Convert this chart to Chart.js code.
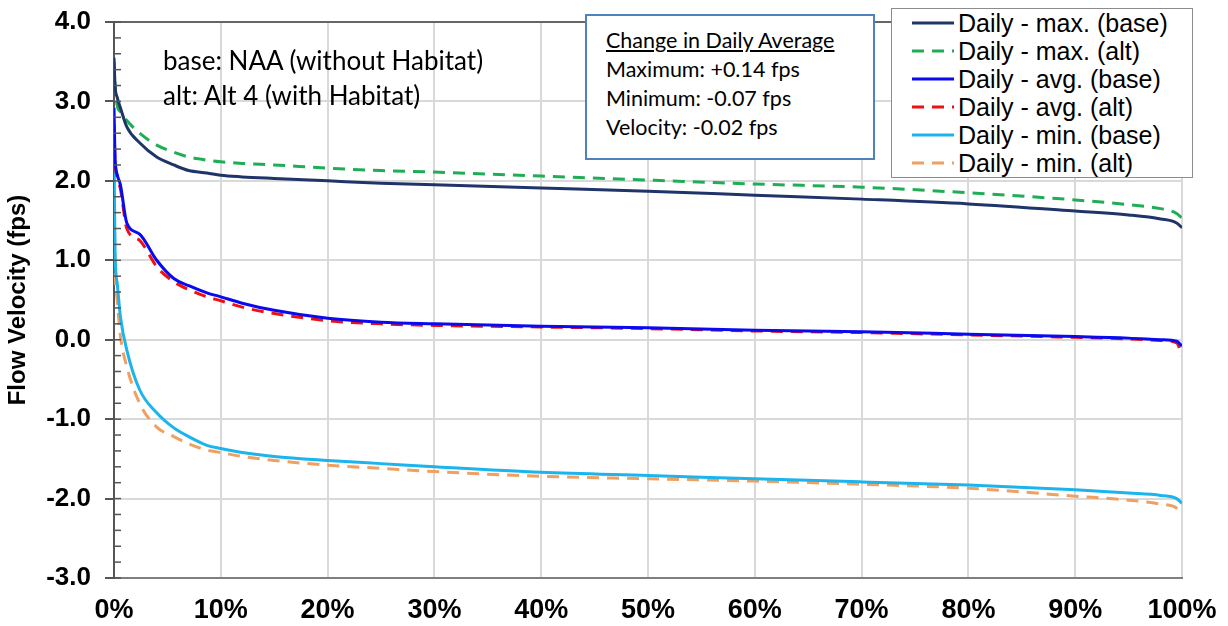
<!DOCTYPE html>
<html>
<head>
<meta charset="utf-8">
<script src="https://cdn.jsdelivr.net/npm/chart.js@4"></script>
<style>
  body { margin: 0; background: #fff; }
  #wrap { position: relative; width: 1228px; height: 626px; }
  .note { position: absolute; font-family: Lato, "Open Sans", sans-serif; color: #000; }
  #legend { position: absolute; left: 891px; top: 8px; width: 300px; height: 168px; border: 1.5px solid #8c8c8c; background: #fff; }
  .row { position: absolute; left: 20px; height: 28px; display: flex; align-items: center; font-family: "Liberation Sans", Arial, sans-serif; font-size: 25px; white-space: nowrap; }
  .row svg { margin-right: 4px; }
</style>
</head>
<body>
<div id="wrap">
  <canvas id="flow-velocity-chart" width="1228" height="626"></canvas>
  <div class="note" style="left:163px; top:43px; font-size:26px; line-height:35px;">base: NAA (without Habitat)<br>alt: Alt 4 (with Habitat)</div>
  <div class="note" style="left:585px; top:14px; width:286px; height:142px; border:2px solid #4f81bd; background:#fff; font-size:21.5px; line-height:29px;">
    <div style="padding:10px 0 0 19px;">
      <span style="text-decoration:underline;">Change in Daily Average</span><br>
      Maximum: +0.14 fps<br>
      Minimum: -0.07 fps<br>
      Velocity: -0.02 fps
    </div>
  </div>
  <div id="legend"></div>
</div>
<script>
// exceedance percent (shared x values)
const exceedPct = [0, 0.1, 0.3, 0.6, 1.2, 2.4, 4, 5.6, 7, 8.7, 10, 12, 15, 20, 25, 30, 40, 50, 60, 70, 80, 90, 95, 98, 99.5, 100];

const maxBase = [3.55, 3.2, 3.05, 2.92, 2.68, 2.48, 2.3, 2.2, 2.13, 2.1, 2.07, 2.05, 2.03, 2.0, 1.97, 1.95, 1.91, 1.87, 1.82, 1.77, 1.71, 1.62, 1.57, 1.52, 1.47, 1.41];
const maxAlt = [3.5, 3.2, 2.95, 2.87, 2.76, 2.6, 2.45, 2.36, 2.3, 2.26, 2.24, 2.22, 2.2, 2.16, 2.13, 2.11, 2.06, 2.01, 1.96, 1.92, 1.85, 1.76, 1.7, 1.65, 1.59, 1.53];
const avgBase = [2.92, 2.3, 2.08, 1.95, 1.47, 1.33, 1.0, 0.77, 0.68, 0.59, 0.54, 0.46, 0.37, 0.27, 0.22, 0.2, 0.17, 0.15, 0.12, 0.1, 0.07, 0.04, 0.02, 0.0, -0.02, -0.08];
const avgAlt = [2.7, 2.25, 2.05, 1.9, 1.4, 1.25, 0.92, 0.73, 0.63, 0.54, 0.49, 0.41, 0.33, 0.24, 0.2, 0.18, 0.16, 0.14, 0.11, 0.09, 0.06, 0.03, 0.01, -0.01, -0.04, -0.2];
const minBase = [2.4, 1.1, 0.71, 0.29, -0.13, -0.63, -0.92, -1.11, -1.22, -1.33, -1.37, -1.42, -1.47, -1.52, -1.56, -1.6, -1.67, -1.71, -1.75, -1.79, -1.83, -1.89, -1.93, -1.96, -2.0, -2.06];
const minAlt = [2.1, 0.95, 0.5, 0.05, -0.34, -0.8, -1.1, -1.22, -1.31, -1.39, -1.42, -1.47, -1.52, -1.58, -1.62, -1.66, -1.72, -1.75, -1.78, -1.82, -1.87, -1.97, -2.02, -2.07, -2.12, -2.2];

const seriesNames = ['Daily - max. (base)', 'Daily - max. (alt)', 'Daily - avg. (base)', 'Daily - avg. (alt)', 'Daily - min. (base)', 'Daily - min. (alt)'];
const seriesValues = [maxBase, maxAlt, avgBase, avgAlt, minBase, minAlt];
const seriesColors = ['#1f3468', '#1fae55', '#0a0af0', '#f01010', '#1cb4ec', '#f0a060'];
const seriesDashed = [false, true, false, true, false, true];

function toPoints(values) {
    return values.map((v, i) => ({ x: exceedPct[i], y: v }));
}

const datasets = seriesNames.map((name, i) => ({
    label: name,
    data: toPoints(seriesValues[i]),
    borderColor: seriesColors[i],
    borderWidth: 3,
    borderDash: seriesDashed[i] ? [12, 8] : [],
    pointRadius: 0,
    cubicInterpolationMode: 'monotone',
    fill: false
}));

// small ticks along the value axis, inside the plot
const minorTicks = {
    id: 'minorTicks',
    afterDraw(chart) {
        const ctx = chart.ctx;
        const y = chart.scales.y;
        ctx.save();
        ctx.strokeStyle = '#555';
        ctx.lineWidth = 1.5;
        for (let k = -15; k <= 20; k++) {
            const py = y.getPixelForValue(k / 5);
            ctx.beginPath();
            ctx.moveTo(y.right, py);
            ctx.lineTo(y.right + 7, py);
            ctx.stroke();
        }
        ctx.restore();
    }
};

const config = {
    type: 'line',
    data: { datasets },
    options: {
        responsive: false,
        animation: false,
        layout: { padding: { top: 22, right: 46, left: 0, bottom: 0 } },
        plugins: { legend: { display: false }, tooltip: { enabled: false } },
        scales: {
            x: {
                type: 'linear',
                min: 0,
                max: 100,
                ticks: {
                    stepSize: 10,
                    callback: v => v + '%',
                    color: '#000',
                    font: { family: 'Liberation Sans, Arial', size: 27, weight: 'bold' },
                    padding: 16,
                    maxRotation: 0
                },
                grid: { color: '#d9d9d9', lineWidth: 2, drawTicks: false },
                border: { color: '#7f7f7f', width: 2 },
                afterFit: s => { s.height = 48; s.paddingLeft = 0; s.paddingRight = 0; }
            },
            y: {
                min: -3,
                max: 4,
                ticks: {
                    stepSize: 1,
                    callback: v => v.toFixed(1),
                    color: '#000',
                    font: { family: 'Liberation Sans, Arial', size: 26, weight: 'bold' },
                    padding: 14
                },
                grid: {
                    color: c => (c.tick && c.tick.value === 4) ? '#666' : '#d9d9d9',
                    lineWidth: 2,
                    tickLength: 9,
                    tickColor: '#555'
                },
                border: { color: '#555', width: 2 },
                title: {
                    display: true,
                    text: 'Flow Velocity (fps)',
                    color: '#000',
                    font: { family: 'Liberation Sans, Arial', size: 24, weight: 'bold' },
                    padding: { top: 4, bottom: 0 }
                },
                afterFit: s => { s.width = 114; s.paddingTop = 0; s.paddingBottom = 0; }
            }
        }
    },
    plugins: [minorTicks]
};

const flowChart = new Chart(document.querySelector('#flow-velocity-chart'), config);

// legend box over the plot
const legendBox = document.querySelector('#legend');
seriesNames.forEach((name, i) => {
    const row = document.createElement('div');
    row.className = 'row';
    row.style.top = (i * 28) + 'px';
    const dash = seriesDashed[i] ? 'stroke-dasharray="12 8"' : '';
    row.innerHTML = '<svg width="42" height="6"><line x1="0" y1="3" x2="42" y2="3" stroke="' +
        seriesColors[i] + '" stroke-width="3" ' + dash + '/></svg><span>' + name + '</span>';
    legendBox.appendChild(row);
});
</script>
</body>
</html>
